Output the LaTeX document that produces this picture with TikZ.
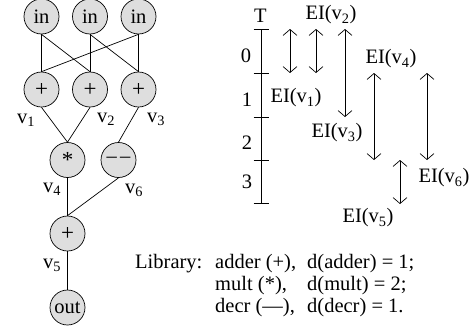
\documentclass[tikz,border=0pt]{standalone}
\usepackage{fontspec}
\setmainfont{Liberation Serif}
\usetikzlibrary{arrows.meta}
\begin{document}
\begin{tikzpicture}[x=1pt,y=-1pt,
  font=\fontsize{20.5}{22}\selectfont,
  op/.style={circle,draw,fill=black!13,minimum size=35pt,inner sep=0pt,line width=0.7pt},
  wire/.style={line width=0.7pt},
  span/.style={line width=0.7pt,
    {Straight Barb[length=6pt,width=14pt]}-{Straight Barb[length=6pt,width=14pt]}},
  lbl/.style={inner sep=0pt,anchor=base west},
  num/.style={inner sep=0pt}]
\useasboundingbox (0,0) rectangle (473,327);

% ---- data-flow graph ----
\node[op] (in1) at (41.5,16.5) {in};
\node[op] (in2) at (90,16.5) {in};
\node[op] (in3) at (138.5,16.5) {in};
\node[op,font=\fontsize{23}{24}\selectfont] (p1) at (41.5,89.5) {+};
\node[op,font=\fontsize{23}{24}\selectfont] (p2) at (90,89.5) {+};
\node[op,font=\fontsize{23}{24}\selectfont] (p3) at (138.5,89.5) {+};
\node[op,font=\fontsize{23}{24}\selectfont] (mul) at (67.5,160) {*};
\node[op] (dec) at (118.5,160) {–\,–};
\node[op,font=\fontsize{23}{24}\selectfont] (p5) at (67.5,233.5) {+};
\node[op] (out) at (67.5,307.5) {out};

\draw[wire] (in1.south) -- (p1.north);
\draw[wire] (in1.south) -- (p2.north);
\draw[wire] (in2.south) -- (p2.north);
\draw[wire] (in2.south) -- (p3.north);
\draw[wire] (in3.south) -- (p1.north);
\draw[wire] (in3.south) -- (p3.north);
\draw[wire] (p1.south) -- (mul.north);
\draw[wire] (p2.south) -- (mul.north);
\draw[wire] (p3.south) -- (dec.north);
\draw[wire] (mul.south) -- (p5.north);
\draw[wire] (dec.south) -- (p5.north);
\draw[wire] (p5.south) -- (out.north);

\node[lbl] (v1) at (17,123) {v\textsubscript{1}};
\node[lbl] (v2) at (97,122) {v\textsubscript{2}};
\node[lbl] (v3) at (147,122) {v\textsubscript{3}};
\node[lbl] (v4) at (43,192) {v\textsubscript{4}};
\node[lbl] (v6) at (125,193) {v\textsubscript{6}};
\node[lbl] (v5) at (43,268) {v\textsubscript{5}};

% ---- time axis ----
\node[num] (T) at (260.5,15.5) {T};
\coordinate (t0) at (261,29);
\coordinate (t1) at (261,73);
\coordinate (t2) at (261,117);
\coordinate (t3) at (261,160);
\coordinate (t4) at (261,203);
\draw[wire] (t0) -- (t4);
\foreach \t in {t0,t1,t2,t3,t4}
  \draw[wire] ([xshift=-7.5pt]\t) -- ([xshift=7.5pt]\t);
\node[num] (c0) at (246,56) {0};
\node[num] (c1) at (247,100) {1};
\node[num] (c2) at (247,143) {2};
\node[num] (c3) at (247,182) {3};

% ---- execution intervals ----
\coordinate (a1s) at (290,29);  \coordinate (a1e) at (290,73);
\coordinate (a2s) at (316,29);  \coordinate (a2e) at (316,73);
\coordinate (a3s) at (345,29);  \coordinate (a3e) at (345,117);
\coordinate (a4s) at (374,73);  \coordinate (a4e) at (374,160);
\coordinate (a5s) at (427,73);  \coordinate (a5e) at (427,160);
\coordinate (a6s) at (400,160); \coordinate (a6e) at (400,204);
\draw[span] (a1s) -- (a1e);
\draw[span] (a2s) -- (a2e);
\draw[span] (a3s) -- (a3e);
\draw[span] (a4s) -- (a4e);
\draw[span] (a5s) -- (a5e);
\draw[span] (a6s) -- (a6e);

\node[num] (ei2) at (331,15) {EI(v\textsubscript{2})};
\node[num] (ei1) at (296,98) {EI(v\textsubscript{1})};
\node[num] (ei3) at (337,133) {EI(v\textsubscript{3})};
\node[num] (ei4) at (391,59) {EI(v\textsubscript{4})};
\node[num] (ei6) at (444,178) {EI(v\textsubscript{6})};
\node[num] (ei5) at (368,218) {EI(v\textsubscript{5})};

% ---- component library ----
\node[lbl] (lib) at (135,268) {Library:};
\node[lbl] (l1a) at (215,268) {adder (+),};
\node[lbl] (l1b) at (307,268) {d(adder) = 1;};
\node[lbl] (l2a) at (215,290) {mult (*),};
\node[lbl] (l2b) at (307,290) {d(mult) = 2;};
\node[lbl] (l3a) at (215,312) {decr (—),};
\node[lbl] (l3b) at (307,312) {d(decr) = 1.};
\end{tikzpicture}
\end{document}
